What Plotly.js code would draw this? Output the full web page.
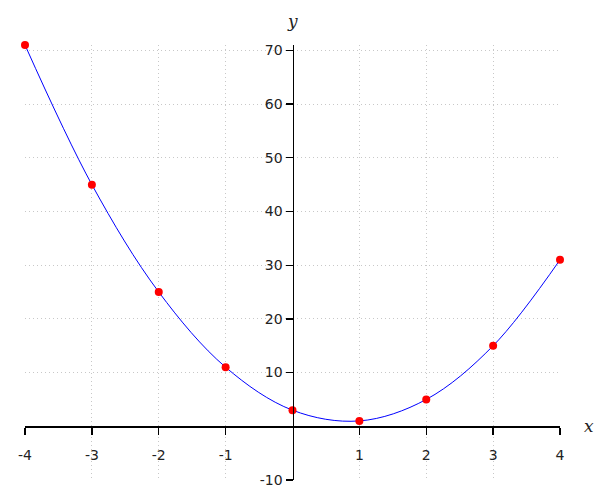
<!DOCTYPE html>
<html>
<head>
<meta charset="utf-8">
<script src="https://cdn.plot.ly/plotly-3.0.1.min.js"></script>
<style>html,body{margin:0;padding:0;background:#fff;}#chart{width:600px;height:500px;}</style>
</head>
<body>
<div id="chart"></div>
<script>
var xValues = [-4, -3, -2, -1, 0, 1, 2, 3, 4];
var yValues = [71, 45, 25, 11, 3, 1, 5, 15, 31];
var xTicks = [-4, -3, -2, -1, 1, 2, 3, 4];
var yTicks = [-10, 10, 20, 30, 40, 50, 60, 70];

var xMin = -4, xMax = 4, yMin = -10, yMax = 71;

var curve = {
  x: xValues, y: yValues, mode: 'lines', type: 'scatter',
  line: {color: '#0000ff', width: 1, shape: 'spline', smoothing: 1},
  hoverinfo: 'skip', showlegend: false, cliponaxis: false
};
var pts = {
  x: xValues, y: yValues, mode: 'markers', type: 'scatter',
  marker: {color: '#ff0000', size: 8},
  showlegend: false, cliponaxis: false
};

var tickFont = {family: 'DejaVu Sans', size: 14, color: '#222'};

var layout = {
  width: 600, height: 500,
  margin: {l: 25, r: 40, t: 45, b: 20},
  paper_bgcolor: '#fff', plot_bgcolor: '#fff',
  xaxis: {
    range: [xMin, xMax], anchor: 'free', position: (0 - yMin) / (yMax - yMin),
    tickvals: xTicks, ticktext: xTicks.map(String),
    showline: true, linecolor: '#000', linewidth: 1.3,
    ticks: 'outside', ticklen: 7, tickcolor: '#000', tickwidth: 1.3,
    ticklabelstandoff: 9,
    showgrid: true, gridcolor: '#c8c8c8', griddash: '1px,3px', gridwidth: 1,
    zeroline: false, tickfont: tickFont, fixedrange: true
  },
  yaxis: {
    range: [yMin, yMax], anchor: 'free', position: (0 - xMin) / (xMax - xMin),
    tickvals: yTicks, ticktext: yTicks.map(String),
    showline: true, linecolor: '#000', linewidth: 1.3,
    ticks: 'outside', ticklen: 7, tickcolor: '#000', tickwidth: 1.3,
    showgrid: true, gridcolor: '#c8c8c8', griddash: '1px,3px', gridwidth: 1,
    zeroline: false, tickfont: tickFont, fixedrange: true
  },
  annotations: [
    {text: 'y', xref: 'x', yref: 'paper', x: 0, y: 1, yanchor: 'bottom', xanchor: 'center',
     yshift: 12, showarrow: false,
     font: {family: 'DejaVu Serif', size: 17, color: '#222', style: 'italic'}},
    {text: 'x', xref: 'paper', yref: 'y', x: 1, y: 0, xanchor: 'left', yanchor: 'middle',
     xshift: 22, showarrow: false,
     font: {family: 'DejaVu Serif', size: 17, color: '#222', style: 'italic'}}
  ]
};

Plotly.newPlot('chart', [curve, pts], layout, {displayModeBar: false, staticPlot: true});
</script>
</body>
</html>
